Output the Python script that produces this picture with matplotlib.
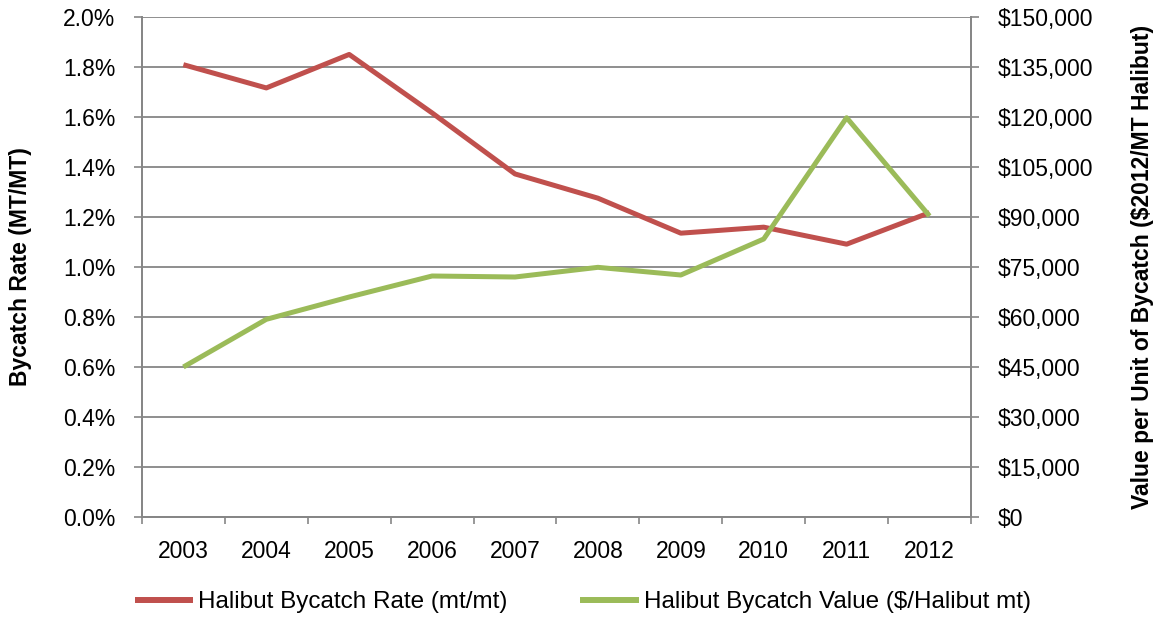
import numpy as np
import matplotlib.pyplot as plt
from matplotlib.ticker import FuncFormatter, MultipleLocator

plt.rcParams['font.family'] = ['Liberation Sans', 'DejaVu Sans']

# data
years = ['2003', '2004', '2005', '2006', '2007', '2008', '2009', '2010', '2011', '2012']
rate_pct = [1.808, 1.715, 1.849, 1.615, 1.371, 1.274, 1.134, 1.158, 1.090, 1.216]
value_usd = [44900, 59200, 65900, 72200, 71900, 74800, 72500, 83300, 119700, 90200]

RED = '#C0504D'
GREEN = '#9BBB59'
GRID = '#868686'
FS = 16.5

fig = plt.figure(figsize=(11.54, 6.18), dpi=100)
ax = fig.add_axes([0.123, 0.164, 0.7184, 0.809])
ax2 = ax.twinx()

x = np.arange(len(years))
l1, = ax.plot(x, rate_pct, color=RED, lw=3.6, solid_capstyle='butt', zorder=3)
l2, = ax2.plot(x, value_usd, color=GREEN, lw=3.6, solid_capstyle='butt', zorder=3)

ax.set_xlim(-0.5, len(years) - 0.5)
ax.set_ylim(0, 2.0)
ax2.set_ylim(0, 150000)

ax.yaxis.set_major_locator(MultipleLocator(0.2))
ax.yaxis.set_major_formatter(FuncFormatter(lambda v, p: f'{v:.1f}%'))
ax2.yaxis.set_major_locator(MultipleLocator(15000))
ax2.yaxis.set_major_formatter(FuncFormatter(lambda v, p: f'\\${v:,.0f}'))

ax.grid(axis='y', color=GRID, lw=1.3)
ax.set_axisbelow(True)

# category ticks sit on the boundaries, labels in the middle
ax.set_xticks(np.arange(-0.5, len(years), 1.0))
ax.set_xticklabels([])
ax.set_xticks(x, minor=True)
ax.set_xticklabels(years, minor=True)
ax.tick_params(axis='x', which='major', length=5, width=1.2, color=GRID, direction='out')
ax.tick_params(axis='x', which='minor', length=0, pad=17, labelsize=FS)
ax.tick_params(axis='y', length=6, width=1.2, color=GRID, labelsize=FS, pad=13)
ax2.tick_params(axis='y', length=6, width=1.2, color=GRID, labelsize=FS, pad=13)

for a in (ax, ax2):
    a.spines['top'].set_visible(False)
    for s in ('left', 'right', 'bottom'):
        a.spines[s].set_color(GRID)
        a.spines[s].set_linewidth(1.3)

ax.set_ylabel('Bycatch Rate (MT/MT)', fontsize=FS, fontweight='bold')
ax.yaxis.set_label_coords(-0.133, 0.5)
ax2.set_ylabel('Value per Unit of Bycatch (\\$2012/MT Halibut)', fontsize=FS,
               fontweight='bold', rotation=90)
ax2.yaxis.set_label_coords(1.193, 0.5)

leg = fig.legend([l1, l2], ['Halibut Bycatch Rate (mt/mt)', 'Halibut Bycatch Value ($/Halibut mt)'],
                 loc='lower center', bbox_to_anchor=(0.505, -0.028), ncol=2, frameon=False,
                 fontsize=17.5, handlelength=2.4, columnspacing=3.0, handletextpad=0.2)
for h in leg.legend_handles:
    h.set_linewidth(4.3)

fig.savefig('out.png', dpi=100)
